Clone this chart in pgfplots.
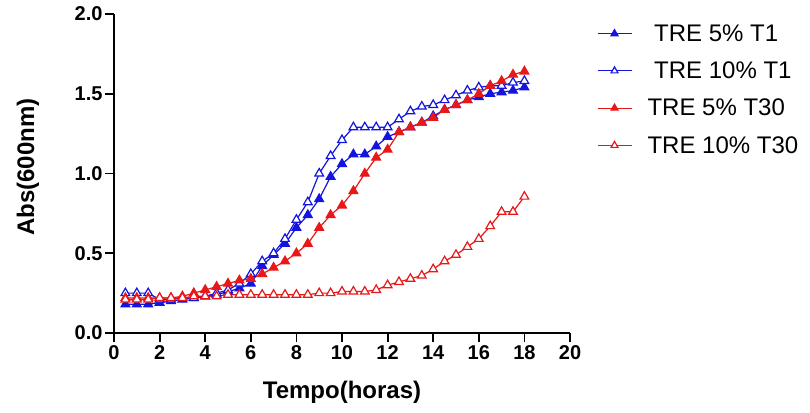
\documentclass[border=0pt]{standalone}
\usepackage{fontspec}
\setmainfont{Liberation Sans}
\usepackage{pgfplots}
\usepackage{pgfplotstable}
\pgfplotsset{compat=1.18}

\definecolor{tblue}{RGB}{20,20,225}
\definecolor{tred}{RGB}{232,24,24}

% Absorbance at 600 nm, readings every 30 min
\pgfplotstableread{
t    a5t1  a10t1  a5t30  a10t30
0.5  0.18  0.25   0.22   0.21
1.0  0.18  0.25   0.22   0.21
1.5  0.18  0.25   0.22   0.21
2.0  0.19  0.21   0.22   0.22
2.5  0.20  0.21   0.22   0.22
3.0  0.21  0.22   0.23   0.22
3.5  0.22  0.22   0.25   0.23
4.0  0.23  0.23   0.27   0.23
4.5  0.24  0.25   0.29   0.23
5.0  0.26  0.27   0.31   0.24
5.5  0.28  0.31   0.33   0.24
6.0  0.31  0.37   0.34   0.24
6.5  0.42  0.45   0.37   0.24
7.0  0.49  0.50   0.41   0.24
7.5  0.56  0.59   0.45   0.24
8.0  0.66  0.71   0.50   0.24
8.5  0.74  0.82   0.56   0.24
9.0  0.84  1.00   0.66   0.25
9.5  0.98  1.11   0.74   0.25
10.0 1.06  1.21   0.80   0.26
10.5 1.12  1.29   0.89   0.26
11.0 1.12  1.29   1.00   0.26
11.5 1.17  1.29   1.10   0.27
12.0 1.23  1.29   1.15   0.30
12.5 1.26  1.34   1.26   0.32
13.0 1.29  1.39   1.29   0.34
13.5 1.32  1.42   1.32   0.36
14.0 1.36  1.43   1.35   0.40
14.5 1.40  1.46   1.40   0.45
15.0 1.43  1.49   1.43   0.49
15.5 1.46  1.52   1.46   0.54
16.0 1.48  1.54   1.50   0.59
16.5 1.50  1.55   1.55   0.67
17.0 1.51  1.55   1.58   0.76
17.5 1.52  1.57   1.62   0.76
18.0 1.54  1.58   1.64   0.855
}\growth

\begin{document}
\begin{tikzpicture}[x=1pt,y=1pt]
\begin{axis}[
  name=ax,
  scale only axis,
  width=456pt, height=319pt,
  xmin=0, xmax=20, ymin=0, ymax=2,
  axis x line*=bottom, axis y line*=left,
  axis line style={-, line width=1.8pt},
  xtick={0,2,...,20},
  ytick={0,0.5,...,2.0},
  tick align=outside,
  major tick length=9pt,
  tick style={line width=1.8pt, black},
  /pgf/number format/assume math mode=true,
  yticklabel style={/pgf/number format/fixed, /pgf/number format/fixed zerofill, /pgf/number format/precision=1, xshift=1pt},
  xticklabel style={/pgf/number format/fixed},
  tick label style={font=\bfseries\fontsize{20}{20}\selectfont},
  xlabel={Tempo(horas)},
  ylabel={Abs(600nm)},
  label style={font=\bfseries\fontsize{24}{24}\selectfont},
  xlabel style={at={(axis description cs:0.5,-0.185)}, anchor=center},
  ylabel style={at={(axis description cs:-0.189,0.52)}, anchor=center},
  clip=false,
  mark size=5pt,
  every axis plot/.append style={line width=1.2pt},
  legend cell align=left,
  legend style={draw=none, fill=none, at={(1.052,0.98)}, anchor=north west,
    font=\fontsize{24}{24}\selectfont, row sep=15pt},
  legend image code/.code={
    \path[draw=none] (0pt,0pt) -- (48pt,0pt);
    \draw[#1, mark=none] (0pt,0pt) -- (34pt,0pt);
    \draw[#1, only marks, mark size=4pt] plot coordinates {(17pt,0pt)};
  },
]
\addplot[tblue, mark=triangle*, mark options={fill=tblue}] table[x=t, y=a5t1] {\growth};
\addlegendentry{\ TRE 5\% T1}
\addplot[tblue, mark=triangle*, mark options={fill=white}] table[x=t, y=a10t1] {\growth};
\addlegendentry{\ TRE 10\% T1}
\addplot[tred, mark=triangle*, mark options={fill=tred}] table[x=t, y=a5t30] {\growth};
\addlegendentry{TRE 5\% T30}
\addplot[tred, mark=triangle*, mark options={fill=white}] table[x=t, y=a10t30] {\growth};
\addlegendentry{TRE 10\% T30}
\end{axis}
\pgfresetboundingbox
\path ([xshift=-114pt,yshift=-79pt]ax.south west) rectangle ([xshift=240pt,yshift=14pt]ax.north east);
\end{tikzpicture}
\end{document}
